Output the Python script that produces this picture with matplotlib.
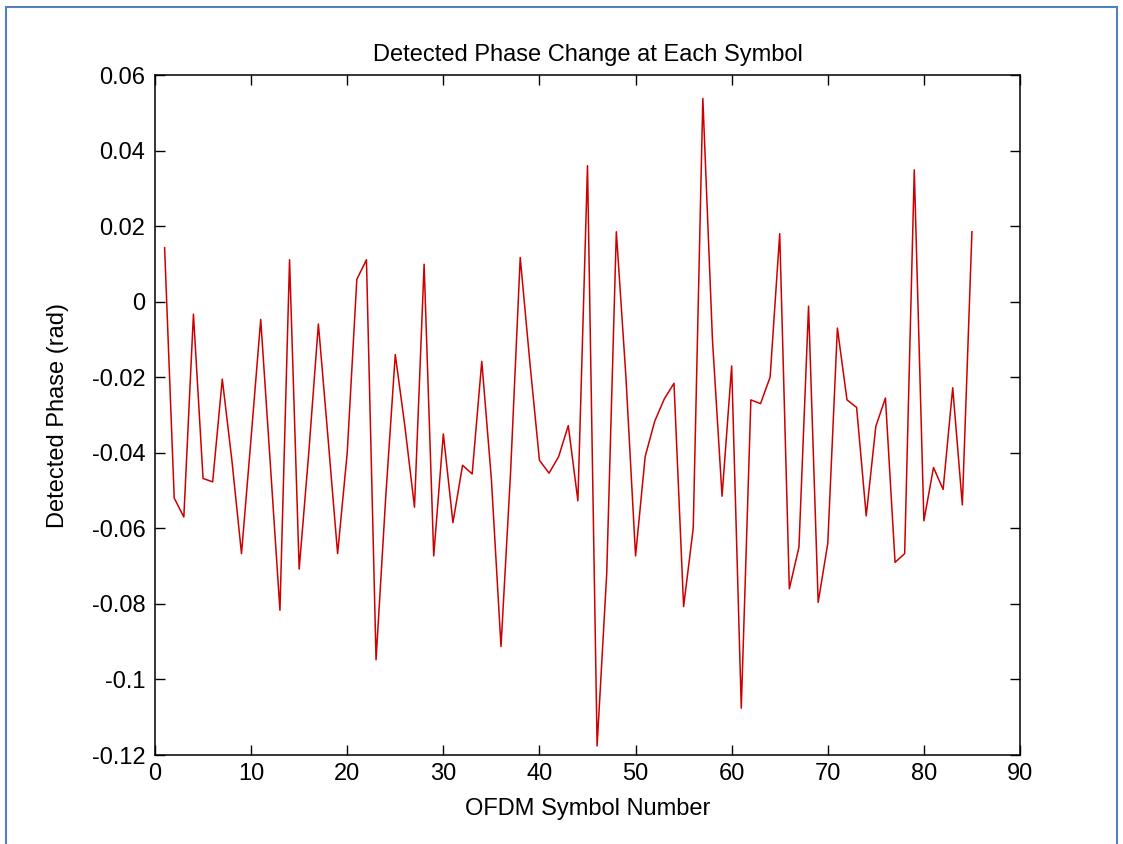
import numpy as np
import matplotlib
matplotlib.use("Agg")
import matplotlib.pyplot as plt
from matplotlib.patches import Rectangle

# detected phase per OFDM symbol (rad)
symbols = np.arange(1, 86)
phase = [
    0.0143, -0.052, -0.057, -0.0033, -0.0468, -0.0477, -0.0205, -0.042, -0.0667, -0.036,
    -0.0047, -0.043, -0.0817, 0.0111, -0.0708, -0.040, -0.0059, -0.036, -0.0667, -0.040,
    0.0059, 0.0111, -0.0948, -0.052, -0.014, -0.033, -0.0544, 0.0099, -0.0673, -0.035,
    -0.0585, -0.0433, -0.0456, -0.0158, -0.047, -0.0913, -0.045, 0.0117, -0.016, -0.042,
    -0.0454, -0.041, -0.0328, -0.0527, 0.036, -0.1176, -0.072, 0.0185, -0.020, -0.0673,
    -0.041, -0.0316, -0.0257, -0.0216, -0.0807, -0.060, 0.0538, -0.010, -0.0515, -0.017,
    -0.1076, -0.026, -0.027, -0.020, 0.018, -0.076, -0.065, -0.0012, -0.0796, -0.064,
    -0.007, -0.026, -0.028, -0.0567, -0.033, -0.0255, -0.069, -0.0667, 0.0349, -0.058,
    -0.0439, -0.0497, -0.0228, -0.0538, 0.0185,
]

xticks = np.arange(0, 91, 10)
yticks = [0.06, 0.04, 0.02, 0, -0.02, -0.04, -0.06, -0.08, -0.1, -0.12]
ytick_labels = ["0.06", "0.04", "0.02", "0", "-0.02", "-0.04", "-0.06", "-0.08", "-0.1", "-0.12"]

plt.rcParams['font.family'] = ['Liberation Sans', 'DejaVu Sans']

fig = plt.figure(figsize=(11.23, 8.44), dpi=100)
ax = fig.add_axes([155 / 1123, 1 - 755 / 844, (1020 - 155) / 1123, (755 - 75) / 844])

ax.plot(symbols, phase, color='#cc0000', linewidth=1.1)

ax.set_xlim(0, 90)
ax.set_ylim(-0.12, 0.06)
ax.set_xticks(xticks)
ax.set_yticks(yticks)
ax.set_yticklabels(ytick_labels)
ax.tick_params(direction='in', top=True, right=True, length=7, width=1,
               labelsize=17)
ax.tick_params(axis='x', pad=6)
ax.tick_params(axis='y', pad=7)
for s in ax.spines.values():
    s.set_linewidth(1.1)

ax.set_title('Detected Phase Change at Each Symbol', fontsize=17, pad=10)
ax.set_xlabel('OFDM Symbol Number', fontsize=17, labelpad=9)
ax.set_ylabel('Detected Phase (rad)', fontsize=17, labelpad=16)

# light blue frame of the screenshot
fig.patches.append(Rectangle((6 / 1123, -0.05), 1111 / 1123, 1.05 - 7 / 844,
                             transform=fig.transFigure, fill=False,
                             edgecolor='#4f81bd', linewidth=1.5))

fig.savefig('out.png', dpi=100, facecolor='white')
